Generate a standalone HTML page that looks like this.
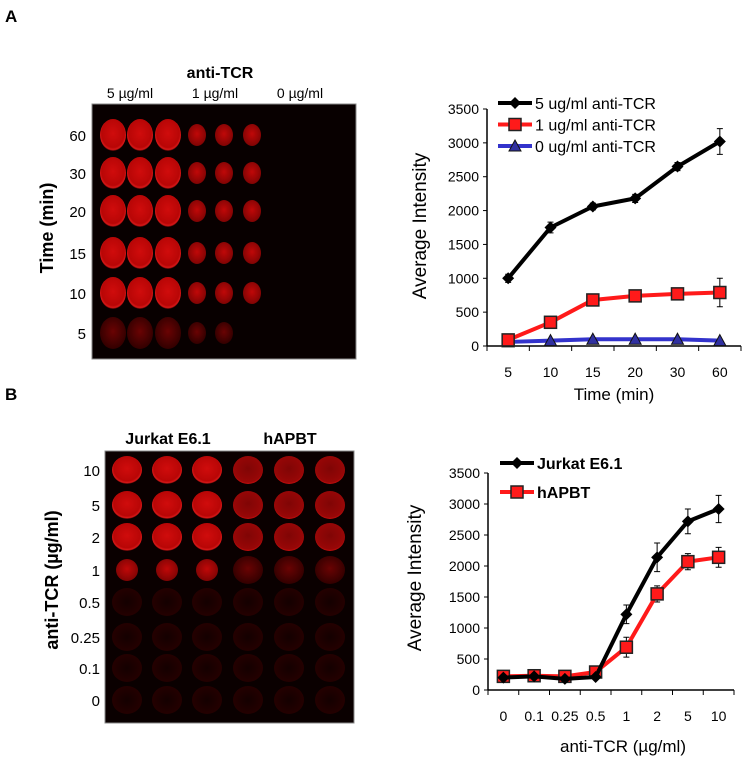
<!DOCTYPE html>
<html><head><meta charset="utf-8"><style>
body{margin:0;background:#fff;}
svg{display:block;font-family:"Liberation Sans",Arial,sans-serif;}
</style></head><body>
<svg id="fig" width="747" height="763" viewBox="0 0 747 763">
<defs>
<radialGradient id="wb" cx="50%" cy="45%" r="55%"><stop offset="0" stop-color="#d00c0c"/><stop offset="0.8" stop-color="#b80606"/><stop offset="0.92" stop-color="#d81818"/><stop offset="1" stop-color="#300000"/></radialGradient>
<radialGradient id="wm" cx="50%" cy="45%" r="55%"><stop offset="0" stop-color="#c00808"/><stop offset="1" stop-color="#800404"/></radialGradient>
<radialGradient id="wd" cx="50%" cy="45%" r="55%"><stop offset="0" stop-color="#6a0303"/><stop offset="1" stop-color="#320000"/></radialGradient>
<radialGradient id="wh" cx="50%" cy="45%" r="55%"><stop offset="0" stop-color="#800505"/><stop offset="0.88" stop-color="#980707"/><stop offset="1" stop-color="#c80e0e"/></radialGradient>
<radialGradient id="wf" cx="50%" cy="50%" r="55%"><stop offset="0" stop-color="#140000"/><stop offset="1" stop-color="#260000"/></radialGradient>
</defs>
<text x="5" y="22" font-size="17" font-weight="bold">A</text>
<text x="5" y="400" font-size="17" font-weight="bold">B</text>
<g id="imgA"></g>
<g id="imgB"></g>
<g id="chartA"></g>
<g id="chartB"></g>
</svg>
<script>
// ---- chart A data ----
const catsA = ["5","10","15","20","30","60"];
const s5A = [1000,1750,2060,2180,2650,3020];
const e5A = [60,80,50,60,60,190];
const s1A = [90,350,680,740,770,790];
const e1A = [30,40,40,40,40,210];
const s0A = [60,80,100,100,100,80];
const ticksA = [0,500,1000,1500,2000,2500,3000,3500];
// ---- chart B data ----
const catsB = ["0","0.1","0.25","0.5","1","2","5","10"];
const jurB = [200,220,180,210,1220,2140,2720,2920];
const jurErrB = [30,30,30,30,150,230,200,220];
const hapB = [220,230,220,290,690,1550,2070,2140];
const hapErrB = [30,30,30,30,160,130,130,160];
const ticksB = [0,500,1000,1500,2000,2500,3000,3500];

const NS="http://www.w3.org/2000/svg";
function mk(parent,tag,attrs,text){const e=document.createElementNS(NS,tag);for(const k in attrs)e.setAttribute(k,attrs[k]);if(text!==undefined)e.textContent=text;parent.appendChild(e);return e;}

function drawChart(g,o){
  const {x0,x1,y0,y1,max,cats,ticks}=o;
  const n=cats.length, bw=(x1-x0)/n;
  const X=i=>x0+bw*(i+0.5);
  const Y=v=>y0-(v/max)*(y0-y1);
  let a=mk(g,'line',{x1:x0,y1:y0,x2:x0,y2:y1,stroke:'#000','stroke-width':1.5});
  
  
  a=mk(g,'line',{x1:x0,y1:y0,x2:x1,y2:y0,stroke:'#000','stroke-width':1.5});
  
  
  ticks.forEach(t=>{
    mk(g,'line',{x1:x0-4,y1:Y(t),x2:x0,y2:Y(t),stroke:'#000','stroke-width':1});
    const tl=mk(g,'text',{x:x0-8,y:Y(t)+5,'font-size':14,'text-anchor':'end'},String(t));
    
    
  });
  for(let i=0;i<=n;i++) mk(g,'line',{x1:x0+bw*i,y1:y0,x2:x0+bw*i,y2:y0+5,stroke:'#000','stroke-width':1});
  cats.forEach((c,i)=>{
    const tl=mk(g,'text',{x:X(i),y:o.xlabY,'font-size':14,'text-anchor':'middle'},c);
    
    
  });
  let t=mk(g,'text',{x:o.xtX,y:o.xtY,'font-size':17,'text-anchor':'middle'},o.xTitle);
  
  
  t=mk(g,'text',{x:0,y:0,'font-size':19,'text-anchor':'middle',transform:`translate(${o.ytX},${o.ytY}) rotate(-90)`},'Average Intensity');
  
  
  o.series.forEach(s=>{
    const sg=mk(g,'g',{});
    
    
    if(s.err) s.vals.forEach((v,i)=>{
      const e=s.err[i]; if(!e) return;
      mk(sg,'path',{d:`M${X(i)},${Y(v-e)}V${Y(v+e)}M${X(i)-3},${Y(v-e)}h6M${X(i)-3},${Y(v+e)}h6`,stroke:'#000','stroke-width':1,fill:'none'});
    });
    mk(sg,'polyline',{points:s.vals.map((v,i)=>X(i)+','+Y(v)).join(' '),fill:'none',stroke:s.color,'stroke-width':4,'stroke-linejoin':'round'});
    s.vals.forEach((v,i)=>drawMarker(sg,s.marker,X(i),Y(v),s.fill));
  });
  o.legend.forEach((L,i)=>{
    const lg=mk(g,'g',{});
    
    
    const ly=o.legY+i*o.legDy;
    mk(lg,'line',{x1:o.legX,y1:ly,x2:o.legX+34,y2:ly,stroke:L.color,'stroke-width':4});
    drawMarker(lg,L.marker,o.legX+17,ly,L.fill);
    mk(lg,'text',{x:o.legX+37,y:ly+6,'font-size':o.legFs,'font-weight':o.legBold?'bold':'normal'},L.label);
  });
}
function drawMarker(g,m,x,y,fill){
  if(m==='d') mk(g,'path',{d:`M${x},${y-6}L${x+6},${y}L${x},${y+6}L${x-6},${y}Z`,fill:'#000'});
  else if(m==='s') mk(g,'rect',{x:x-6,y:y-6,width:12,height:12,fill:'#ff1a1a',stroke:'#222','stroke-width':1.5});
  else mk(g,'path',{d:`M${x},${y-6}L${x+6},${y+5}L${x-6},${y+5}Z`,fill:'#3030a0',stroke:'#111','stroke-width':1});
}

drawChart(document.getElementById('chartA'),{
  x0:487,x1:741,y0:346,y1:109,max:3500,cats:catsA,ticks:ticksA,xlabY:377,
  xTitle:'Time (min)',xtX:614,xtY:400,ytX:426,ytY:226,
  series:[
    {name:'series-0ug',vals:s0A,color:'#3333cc',marker:'t'},
    {name:'series-1ug',vals:s1A,err:e1A,color:'#ff1a1a',marker:'s'},
    {name:'series-5ug',vals:s5A,err:e5A,color:'#000',marker:'d'}],
  legend:[{label:'5 ug/ml anti-TCR',color:'#000',marker:'d'},{label:'1 ug/ml anti-TCR',color:'#ff1a1a',marker:'s'},{label:'0 ug/ml anti-TCR',color:'#3333cc',marker:'t'}],
  legX:498,legY:103,legDy:21.5,legFs:16,legBold:false
});
drawChart(document.getElementById('chartB'),{
  x0:488,x1:734,y0:690,y1:473,max:3500,cats:catsB,ticks:ticksB,xlabY:721,
  xTitle:'anti-TCR (µg/ml)',xtX:623,xtY:752,ytX:421,ytY:578,
  series:[
    {name:'series-hapbt',vals:hapB,err:hapErrB,color:'#ff1a1a',marker:'s'},
    {name:'series-jurkat',vals:jurB,err:jurErrB,color:'#000',marker:'d'}],
  legend:[{label:'Jurkat E6.1',color:'#000',marker:'d'},{label:'hAPBT',color:'#ff1a1a',marker:'s'}],
  legX:500,legY:463,legDy:29,legFs:16,legBold:true
});

// ---- blot images ----
(function(){
  const g=document.getElementById('imgA');
  mk(g,'rect',{x:92,y:104,width:264,height:255,fill:'#080000',stroke:'#888','stroke-width':1});
  const xs=[113,140,168,197,224,252], rows=[135,173,211,253,293,333];
  const rl=['60','30','20','15','10','5'];
  rows.forEach((y,r)=>{
    xs.forEach((x,c)=>{
      const big=c<3;
      let f=big?'url(#wb)':'url(#wm)';
      if(r===5) f='url(#wd)';
      if(r===5&&c===5) return;
      const w=mk(g,'ellipse',{cx:x,cy:y,rx:big?13:9,ry:big?16:11,fill:f});
      
      
    });
    mk(g,'text',{x:86,y:y+6,'font-size':15,'text-anchor':'end'},rl[r]);
  });
  mk(g,'text',{x:220,y:78,'font-size':16,'font-weight':'bold','text-anchor':'middle'},'anti-TCR');
  mk(g,'text',{x:130,y:98,'font-size':14,'text-anchor':'middle'},'5 µg/ml');
  mk(g,'text',{x:215,y:98,'font-size':14,'text-anchor':'middle'},'1 µg/ml');
  mk(g,'text',{x:300,y:98,'font-size':14,'text-anchor':'middle'},'0 µg/ml');
  mk(g,'text',{x:0,y:0,'font-size':18,'font-weight':'bold','text-anchor':'middle',transform:'translate(53,228) rotate(-90)'},'Time (min)');
})();
(function(){
  const g=document.getElementById('imgB');
  mk(g,'rect',{x:105,y:451,width:249,height:272,fill:'#0a0000',stroke:'#888','stroke-width':1});
  const xs=[127,167,207,248,289,330], rows=[470,505,537,570,602,637,668,700];
  const rl=['10','5','2','1','0.5','0.25','0.1','0'];
  rows.forEach((y,r)=>{
    xs.forEach((x,c)=>{
      const jur=c<3;
      let f,rx=15,ry=14;
      if(r<3) f=jur?'url(#wb)':'url(#wh)';
      else if(r===3){f=jur?'url(#wm)':'url(#wd)'; if(jur){rx=11;ry=11;}}
      else f='url(#wf)';
      const w=mk(g,'ellipse',{cx:x,cy:y,rx:rx,ry:ry,fill:f});
      
      
    });
    mk(g,'text',{x:100,y:y+6,'font-size':15,'text-anchor':'end'},rl[r]);
  });
  mk(g,'text',{x:168,y:444,'font-size':16,'font-weight':'bold','text-anchor':'middle'},'Jurkat E6.1');
  mk(g,'text',{x:290,y:444,'font-size':16,'font-weight':'bold','text-anchor':'middle'},'hAPBT');
  mk(g,'text',{x:0,y:0,'font-size':18,'font-weight':'bold','text-anchor':'middle',transform:'translate(58,580) rotate(-90)'},'anti-TCR (µg/ml)');
})();
</script>
</body></html>
